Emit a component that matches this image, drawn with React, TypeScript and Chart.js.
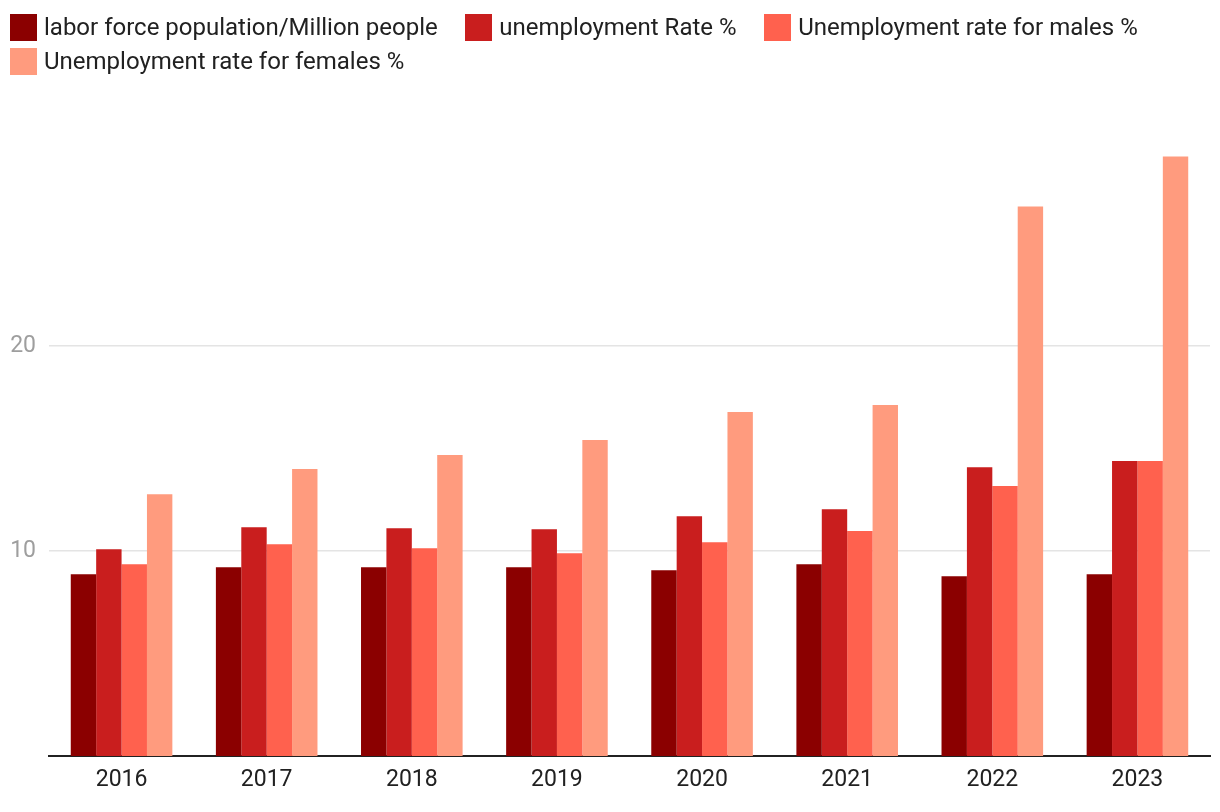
import React, { useEffect, useRef } from "react";
import { Chart, registerables } from "chart.js";

Chart.register(...registerables);

const years = ["2016", "2017", "2018", "2019", "2020", "2021", "2022", "2023"];
const laborForce = [8.87, 9.21, 9.21, 9.21, 9.06, 9.35, 8.77, 8.87];
const unemploymentRate = [10.09, 11.16, 11.11, 11.06, 11.7, 12.04, 14.09, 14.39];
const maleRate = [9.35, 10.33, 10.14, 9.89, 10.43, 10.97, 13.17, 14.39];
const femaleRate = [12.77, 14.0, 14.68, 15.41, 16.78, 17.12, 26.8, 29.24];
const yTicks = [10, 20];

const seriesNames = [
  "labor force population/Million people",
  "unemployment Rate %",
  "Unemployment rate for males %",
  "Unemployment rate for females %",
];
const seriesColors = ["#8b0000", "#c91e1e", "#ff614e", "#ff9b7e"];
const seriesData = [laborForce, unemploymentRate, maleRate, femaleRate];

export default function App() {
  const canvasRef = useRef<HTMLCanvasElement | null>(null);

  useEffect(() => {
    document.body.style.margin = "0";
    const canvas = canvasRef.current;
    if (!canvas) return;
    const chart = new Chart(canvas, {
      type: "bar",
      data: {
        labels: years,
        datasets: seriesData.map((d, i) => ({
          label: seriesNames[i],
          data: d,
          backgroundColor: seriesColors[i],
          borderWidth: 0,
          categoryPercentage: 0.7,
          barPercentage: 1.0,
        })),
      },
      options: {
        animation: false,
        responsive: false,
        maintainAspectRatio: false,
        layout: { padding: { top: 100, right: 10, left: 0, bottom: 0 } },
        plugins: {
          legend: { display: false },
          tooltip: { enabled: false },
        },
        scales: {
          x: {
            grid: { display: false, drawTicks: false },
            border: { display: true, color: "#212121", width: 2 },
            ticks: {
              color: "#212121",
              font: { family: "Roboto", size: 23 },
              padding: 10,
            },
            afterFit: (scale: any) => {
              scale.height = 56;
            },
          },
          y: {
            min: 0,
            max: 32,
            border: { display: false },
            grid: { color: "#e4e4e4", lineWidth: 1.5, drawTicks: false },
            ticks: {
              color: "#9e9e9e",
              font: { family: "Roboto", size: 23 },
              padding: 13,
            },
            afterBuildTicks: (scale: any) => {
              scale.ticks = yTicks.map((v) => ({ value: v }));
            },
            afterFit: (scale: any) => {
              scale.width = 49;
            },
          },
        },
      },
    });
    return () => chart.destroy();
  }, []);

  return (
    <div style={{ position: "relative", width: 1220, height: 812, background: "#fff" }}>
      <canvas ref={canvasRef} width={1220} height={812} style={{ display: "block" }} />
      <div
        style={{
          position: "absolute",
          left: 10,
          top: 14,
          right: 0,
          display: "flex",
          flexWrap: "wrap",
          columnGap: 27.6,
          rowGap: 7.3,
          fontFamily: "Roboto",
          fontSize: 24,
          color: "#212121",
        }}
      >
        {seriesNames.map((name, i) => (
          <div key={name} style={{ display: "flex", alignItems: "center", height: 27 }}>
            <span
              style={{
                display: "inline-block",
                width: 27,
                height: 27,
                background: seriesColors[i],
                marginRight: 7,
                flexShrink: 0,
              }}
            />
            <span style={{ whiteSpace: "nowrap", lineHeight: "27px" }}>{name}</span>
          </div>
        ))}
      </div>
    </div>
  );
}
